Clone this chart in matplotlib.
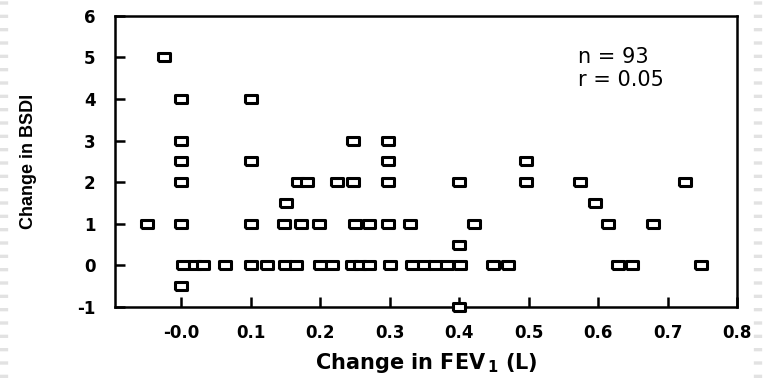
import matplotlib
matplotlib.use("Agg")
import matplotlib.pyplot as plt
from matplotlib.lines import Line2D

plt.rcParams['axes.unicode_minus'] = False

# change in FEV1 (L) and change in BSDI
fev = [-0.025, -0.049,
       0.0, 0.0, 0.0, 0.0, 0.0, 0.0,
       0.003, 0.02, 0.031, 0.063, 0.1, 0.123, 0.149, 0.166, 0.2, 0.217,
       0.246, 0.257, 0.27, 0.3, 0.332, 0.349, 0.366, 0.383, 0.401,
       0.449, 0.47, 0.629, 0.649, 0.748,
       0.1, 0.1, 0.1,
       0.148, 0.172, 0.198, 0.25, 0.27, 0.298, 0.329, 0.421, 0.615, 0.679,
       0.168, 0.181, 0.224, 0.247, 0.298, 0.4, 0.497, 0.574, 0.725,
       0.298, 0.497,
       0.247, 0.298,
       0.151, 0.596,
       0.4, 0.4]
bsdi = [5, 1,
        4, 3, 2.5, 2, 1, -0.5,
        0, 0, 0, 0, 0, 0, 0, 0, 0, 0,
        0, 0, 0, 0, 0, 0, 0, 0, 0,
        0, 0, 0, 0, 0,
        4, 2.5, 1,
        1, 1, 1, 1, 1, 1, 1, 1, 1, 1,
        2, 2, 2, 2, 2, 2, 2, 2, 2,
        2.5, 2.5,
        3, 3,
        1.5, 1.5,
        0.5, -1]

xticks = [0.0, 0.1, 0.2, 0.3, 0.4, 0.5, 0.6, 0.7, 0.8]
xlabels = ['-0.0', '0.1', '0.2', '0.3', '0.4', '0.5', '0.6', '0.7', '0.8']
yticks = [-1, 0, 1, 2, 3, 4, 5, 6]

fig = plt.figure(figsize=(7.63, 3.78), dpi=100)
ax = fig.add_axes([0.1507, 0.188, 0.8153, 0.770])

# wide rectangle marker, like the stretched squares of the original
box = [(-0.5, -0.33), (0.5, -0.33), (0.5, 0.33), (-0.5, 0.33), (-0.5, -0.33)]
ax.plot(fev, bsdi, linestyle='none', marker=box, markersize=9,
        markerfacecolor='white', markeredgecolor='black', markeredgewidth=2.2,
        clip_on=False, zorder=3)

ax.set_xlim(-0.095, 0.8)
ax.set_ylim(-1, 6)
ax.set_xticks(xticks)
ax.set_xticklabels(xlabels)
ax.set_yticks(yticks)

for s in ax.spines.values():
    s.set_linewidth(1.8)
ax.tick_params(direction='in', length=7, width=1.8, labelsize=12)
ax.tick_params(axis='x', pad=12)
ax.tick_params(axis='y', pad=14)
for lab in ax.get_xticklabels() + ax.get_yticklabels():
    lab.set_fontweight('bold')

ax.set_xlabel('Change in FEV$_{\\,\\mathbf{1}}$ (L)', fontsize=15, fontweight='bold')
ax.xaxis.set_label_coords(0.5, -0.15)
ax.set_ylabel('Change in BSDI', fontsize=13, fontweight='bold',
              family=['Liberation Sans', 'DejaVu Sans'])
ax.yaxis.set_label_coords(-0.125, 0.5)

ax.text(0.571, 5.01, 'n = 93', fontsize=15, va='center', ha='left')
ax.text(0.571, 4.46, 'r = 0.05', fontsize=15, va='center', ha='left')

# faint dotted page edges seen in the scan
for xe in [0.005, 0.993]:
    fig.add_artist(Line2D([xe, xe], [0, 1], transform=fig.transFigure,
                          color='#e2e2e2', linewidth=6, linestyle=(0, (0.4, 1.2))))

fig.savefig('out.png', dpi=100)
